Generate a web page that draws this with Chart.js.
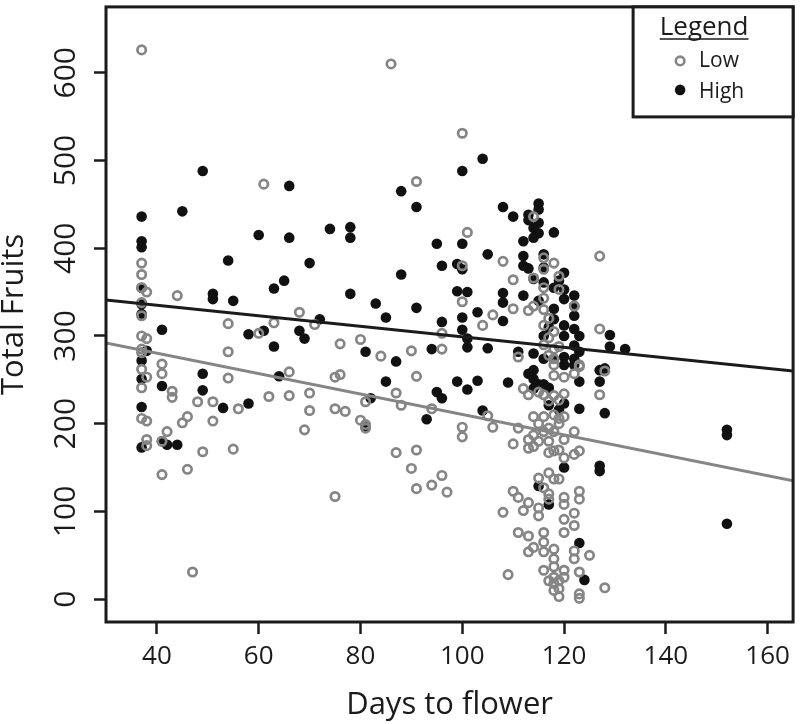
<!DOCTYPE html>
<html>
<head>
<meta charset="utf-8">
<script src="https://cdn.jsdelivr.net/npm/chart.js@4"></script>
<style>
html,body{margin:0;padding:0;background:#fff;}
</style>
</head>
<body>
<canvas id="plot" width="800" height="724"></canvas>
<script>

// Low treatment (hollow grey circles)
const lowDays = [37,86,100,61,91,101,37,37,37,38,37,37,37,38,37,37,37,38,37,37,38,38,38,41,41,43,43,44,48,51,51,56,54,54,54,62,63,60,66,66,68,71,70,70,69,75,76,75,77,76,80,84,80,81,81,81,87,87,75,45,46,42,41,49,55,41,46,47,
90,91,88,94,91,90,91,94,96,97,96,96,100,100,100,100,104,106,105,106,108,110,110,110,111,111,112,113,113,114,114,114,116,118,116,119,116,119,116,122,127,127,127,128,
116,117,116,118,117,116,118,117,119,118,123,118,118,120,122,123,115,116,118,120,119,117,114,115,116,118,119,120,117,119,114,116,118,120,113,115,113,114,117,118,117,119,120,122,123,122,
115,117,118,119,116,117,117,110,111,113,115,115,112,108,120,120,123,123,122,120,122,120,111,113,116,116,114,113,116,118,122,122,125,118,118,118,118,117,119,120,119,118,119,116,120,123,123,123,109,128];
const lowFruits = [626,610,531,473,476,418,383,370,355,350,338,323,300,297,285,281,262,253,241,206,203,182,175,268,257,237,230,346,225,225,203,217,252,282,314,231,315,303,259,232,327,313,235,215,193,253,256,217,214,291,296,277,204,195,199,225,235,167,117,201,208,191,180,168,171,142,148,31,
283,254,221,217,170,149,126,130,141,122,303,285,339,380,196,185,312,324,209,196,385,364,331,177,276,195,240,233,329,334,366,436,389,383,376,368,355,353,343,334,391,308,233,260,
330,320,312,305,298,290,285,278,288,267,267,274,255,253,257,265,236,233,232,234,227,226,208,200,208,210,206,208,195,200,187,191,191,182,182,180,172,174,180,169,167,170,161,165,169,191,
138,144,137,137,127,120,114,123,116,110,104,95,101,99,116,108,123,114,98,91,84,76,76,72,76,65,59,54,54,57,55,46,50,46,37,25,18,21,21,25,12,10,3,33,33,31,6,1,28,13];

// High treatment (filled black circles)
const highDays = [49,66,37,45,37,37,60,66,70,54,65,63,51,51,55,37,37,37,41,58,61,68,69,63,38,37,37,41,49,49,64,53,58,37,37,41,42,44,
104,100,88,91,74,78,78,95,100,105,96,99,100,88,78,83,91,99,101,103,85,100,100,96,72,101,101,81,87,94,105,85,99,103,101,95,96,82,93,104,81,
108,110,115,115,113,113,115,114,115,114,118,112,112,116,112,113,116,114,120,119,116,118,120,120,122,122,122,108,108,108,112,111,115,117,116,
118,118,120,120,122,123,122,123,129,129,132,114,116,118,120,120,122,122,114,128,127,127,123,109,113,114,115,116,117,114,120,117,119,123,128,120,127,127,115,117,123,124,152,152,152];
const highFruits = [488,471,436,442,408,401,415,412,383,386,363,354,348,342,340,355,336,325,307,302,306,306,297,288,283,272,251,243,257,238,254,218,223,219,173,180,176,176,
502,488,465,447,422,424,412,405,405,393,380,382,376,370,348,337,332,351,350,327,321,321,307,316,319,297,287,282,271,285,286,248,248,249,239,236,229,229,205,215,196,
447,436,451,444,438,432,429,423,417,412,418,408,391,393,380,377,378,365,372,363,361,355,353,342,346,334,323,349,338,317,346,282,340,310,300,
331,319,312,300,308,300,289,282,301,288,285,280,274,274,276,267,274,267,261,263,261,248,248,247,257,251,245,245,241,240,223,221,216,217,212,150,152,146,129,108,64,22,193,187,86];

// fitted regression lines, read at the plot edges
const fitDays = [30, 165];
const lowFitFruits = [292, 135];
const highFitFruits = [341, 260];

const xTicks = [40, 60, 80, 100, 120, 140, 160];
const yTicks = [0, 100, 200, 300, 400, 500, 600];

const FONT = "'Open Sans', 'DejaVu Sans', sans-serif";
const INK = "#1c1a1b";
const GREY = "#858585";

function pts(xs, ys){
return xs.map((x,i)=>({x:x, y:ys[i]}));
}

const framePlugin = {
id:"frame",
afterDatasetsDraw(chart){
const {ctx, chartArea:a} = chart;
ctx.save();
ctx.lineWidth = 3;
ctx.strokeStyle = INK;
ctx.strokeRect(a.left, a.top, a.right - a.left, a.bottom - a.top);

// legend box in the top right corner
const bx = a.right - 160, by = a.top, bw = 160, bh = 110;
ctx.fillStyle = "#fff";
ctx.fillRect(bx, by, bw, bh);
ctx.strokeRect(bx, by, bw, bh);

ctx.fillStyle = INK;
ctx.font = "26px " + FONT;
ctx.textAlign = "center";
ctx.textBaseline = "alphabetic";
const title = "Legend";
const tw = ctx.measureText(title).width;
const cx = bx + 71;
ctx.fillText(title, cx, by + 28);
ctx.lineWidth = 1.5;
ctx.beginPath();
ctx.moveTo(cx - tw/2, by + 32);
ctx.lineTo(cx + tw/2, by + 32);
ctx.stroke();

ctx.font = "21px " + FONT;
ctx.textAlign = "left";
ctx.fillText("Low", bx + 66, by + 60);
ctx.fillText("High", bx + 66, by + 91);

ctx.lineWidth = 2.6;
ctx.strokeStyle = GREY;
ctx.beginPath();
ctx.arc(bx + 47, by + 54, 4.3, 0, Math.PI*2);
ctx.stroke();
ctx.fillStyle = "#111";
ctx.beginPath();
ctx.arc(bx + 47, by + 83, 5.3, 0, Math.PI*2);
ctx.fill();
ctx.restore();
}
};

new Chart(document.getElementById("plot"), {
type:"scatter",
data:{
datasets:[
{
label:"High fit",
data:pts(fitDays, highFitFruits),
showLine:true,
borderColor:INK,
borderWidth:3,
pointRadius:0,
order:0
},
{
label:"Low fit",
data:pts(fitDays, lowFitFruits),
showLine:true,
borderColor:GREY,
borderWidth:3,
pointRadius:0,
order:0
},
{
label:"Low",
data:pts(lowDays, lowFruits),
pointRadius:4.2,
pointBorderWidth:2.7,
borderColor:GREY,
backgroundColor:"rgba(0,0,0,0)",
order:1
},
{
label:"High",
data:pts(highDays, highFruits),
pointRadius:5.3,
pointBorderWidth:0,
borderColor:"#111",
backgroundColor:"#111",
order:2
}
]
},
options:{
responsive:false,
animation:false,
layout:{padding:{top:2, right:3, left:0, bottom:0}},
plugins:{
legend:{display:false},
tooltip:{enabled:false}
},
scales:{
x:{
type:"linear",
min:30,
max:165,
afterBuildTicks:s=>{ s.ticks = xTicks.map(v=>({value:v})); },
afterFit:s=>{ s.height = 102; s.paddingLeft = 0; s.paddingRight = 0; },
border:{display:false},
grid:{drawOnChartArea:false, drawTicks:true, tickLength:12, tickWidth:2.5, tickColor:INK},
ticks:{autoSkip:false, maxRotation:0, padding:7, color:INK, font:{family:FONT, size:26}},
title:{display:true, text:"Days to flower", color:INK, padding:0, font:{family:FONT, size:31}}
},
y:{
type:"linear",
min:-26,
max:675,
afterBuildTicks:s=>{ s.ticks = yTicks.map(v=>({value:v})); },
afterFit:s=>{ s.width = 106; s.paddingTop = 0; s.paddingBottom = 0; },
border:{display:false},
grid:{drawOnChartArea:false, drawTicks:true, tickLength:12, tickWidth:2.5, tickColor:INK},
ticks:{autoSkip:false, minRotation:90, maxRotation:90, crossAlign:"center", padding:2, color:INK, font:{family:FONT, size:30}},
title:{display:true, text:"Total Fruits", color:INK, padding:0, font:{family:FONT, size:31, lineHeight:0.9}}
}
}
},
plugins:[framePlugin]
});

</script>
</body>
</html>
